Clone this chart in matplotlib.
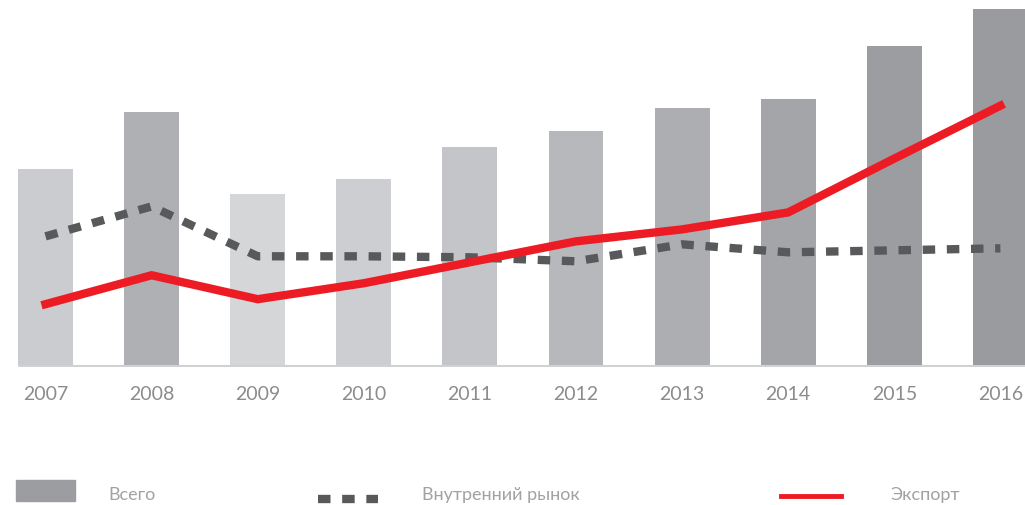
import matplotlib.pyplot as plt
from matplotlib.lines import Line2D
from matplotlib.patches import Rectangle

years = ['2007', '2008', '2009', '2010', '2011', '2012', '2013', '2014', '2015', '2016']
total = [198, 255, 172, 188, 220, 236, 259, 268, 321, 358]
domestic = [130, 160, 110, 110, 109, 105, 122, 114, 116, 118]
export = [62, 91, 67, 83, 104, 125, 137, 154, 208, 261]
bar_colors = ['#cbcccf', '#afb0b4', '#d5d6d8', '#cdced1', '#c4c5c8',
              '#b7b8bb', '#adaeb1', '#a4a5a8', '#9c9da1', '#9a9b9f']

plt.rcParams['font.family'] = ['Lato', 'DejaVu Sans']

fig = plt.figure(figsize=(10.25, 5.06), dpi=100)
ax = fig.add_axes([0, 138 / 506, 1, 368 / 506])

x = list(range(len(years)))
w = 0.518
ax.bar(x, total, width=w, color=bar_colors, zorder=1)
ax.hlines(0, x[0] - w / 2, 9.5, color='#d0d1d3', lw=2.2, zorder=2)

ax.plot(x, domestic, color='#58595b', lw=6, dashes=(1.5, 1.4),
        solid_capstyle='butt', dash_capstyle='butt', zorder=3)
ax.plot(x, export, color='#ed1c24', lw=6, solid_joinstyle='miter', zorder=4)

ax.set_xlim(-0.429, 9.232)
ax.set_ylim(-1, 368)
for s in ax.spines.values():
    s.set_visible(False)
ax.set_yticks([])
ax.set_xticks(x)
ax.set_xticklabels(years, fontsize=14, color='#8c8c8f')
ax.tick_params(axis='x', length=0, pad=13)

# legend
fig.patches.append(Rectangle((16 / 1025, 4 / 506), 59 / 1025, 21 / 506,
                             transform=fig.transFigure, color='#9c9da1'))
fig.lines.append(Line2D([318 / 1025, 378 / 1025], [6 / 506, 6 / 506],
                        transform=fig.transFigure, color='#58595b', lw=6,
                        dashes=(1.5, 1.4), dash_capstyle='butt'))
fig.lines.append(Line2D([781 / 1025, 841 / 1025], [9 / 506, 9 / 506],
                        transform=fig.transFigure, color='#ed1c24', lw=3.5))
lab_kw = dict(fontsize=13, color='#a2a2a5', va='center')
fig.text(108 / 1025, 11 / 506, 'Всего', **lab_kw)
fig.text(422 / 1025, 11 / 506, 'Внутренний рынок', **lab_kw)
fig.text(890 / 1025, 11 / 506, 'Экспорт', **lab_kw)

fig.savefig('out.png', dpi=100)
